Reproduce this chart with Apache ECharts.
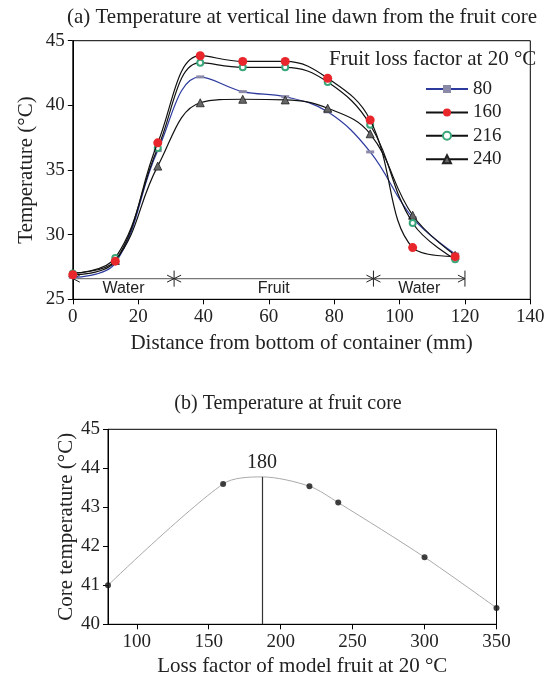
<!DOCTYPE html>
<html>
<head>
<meta charset="utf-8">
<script src="https://cdn.jsdelivr.net/npm/echarts@6/dist/echarts.min.js"></script>
<style>html,body{margin:0;padding:0;background:#fff}#c{width:555px;height:680px}</style>
</head>
<body>
<div id="c"></div>
<script>
// ---- Data (a): temperature along vertical line ----
const distance = [0, 13, 26, 39, 52, 65, 78, 91, 104, 117];
const lf80  = [26.7, 27.8, 36.5, 42.2, 41.06, 40.67, 39.5, 36.4, 31.3, 28.5];
const lf160 = [26.9, 27.95, 37.1, 43.84, 43.4, 43.4, 42.1, 38.87, 29.0, 28.3];
const lf216 = [27.0, 28.2, 36.7, 43.3, 42.94, 42.94, 41.8, 38.5, 30.9, 28.1];
const lf240 = [27.05, 28.0, 35.3, 40.2, 40.47, 40.42, 39.78, 37.8, 31.5, 28.4];
const seriesNames = ['80', '160', '216', '240'];
const xTicksA = [0, 20, 40, 60, 80, 100, 120, 140];
const yTicksA = [25, 30, 35, 40, 45];
// region brackets
const regionStart = [0, 31, 92];
const regionEnd = [31, 92, 120];
const regionName = ['Water', 'Fruit', 'Water'];
const bracketLevel = 26.6;

// ---- Data (b): core temperature ----
const lossFactor = [80, 160, 220, 240, 300, 350];
const coreTemp = [41.0, 43.6, 43.54, 43.12, 41.72, 40.42];
const fitX = [80, 160, 187, 220, 240, 300, 350];
const fitY = [41.0, 43.6, 43.78, 43.54, 43.12, 41.72, 40.42];
const peakX = 187, peakY = 43.78, peakLabel = '180';
const xTicksB = [100, 150, 200, 250, 300, 350];

const SERIF = 'Liberation Serif';
const txt = '#222';
const pairs = (xs, ys) => xs.map((x, i) => [x, ys[i]]);

const axisCommon = {
  axisLine: { show: true, lineStyle: { color: '#000', width: 1 } },
  axisTick: { show: true, inside: false, length: 5, lineStyle: { color: '#000' } },
  splitLine: { show: false },
  axisLabel: { color: txt, fontFamily: SERIF, fontSize: 19, margin: 8 },
  nameTextStyle: { color: txt, fontFamily: SERIF, fontSize: 21 },
  nameLocation: 'middle',
  nameMoveOverlap: false
};

const chart = echarts.init(document.getElementById('c'), null, { renderer: 'canvas' });
chart.setOption({
  animation: false,
  backgroundColor: '#fff',
  grid: [
    { left: 72.8, top: 40.7, width: 457.5, height: 258.6, show: true, borderColor: '#000', borderWidth: 1 },
    { left: 108, top: 429.3, width: 388.5, height: 195, show: true, borderColor: '#000', borderWidth: 1 }
  ],
  xAxis: [
    Object.assign({}, axisCommon, { type: 'value', gridIndex: 0, min: 0, max: 140, interval: 20,
      name: 'Distance from bottom of container (mm)', nameGap: 34 }),
    Object.assign({}, axisCommon, { type: 'value', gridIndex: 1, min: 80, max: 350,
      axisTick: Object.assign({}, axisCommon.axisTick, { customValues: xTicksB }),
      axisLabel: Object.assign({}, axisCommon.axisLabel, { customValues: xTicksB }),
      name: 'Loss factor of model fruit at 20 °C', nameGap: 32 })
  ],
  yAxis: [
    Object.assign({}, axisCommon, { type: 'value', gridIndex: 0, min: 25, max: 45, interval: 5,
      name: 'Temperature (°C)', nameGap: 36 }),
    Object.assign({}, axisCommon, { type: 'value', gridIndex: 1, min: 40, max: 45, interval: 1,
      name: 'Core temperature (°C)', nameGap: 31 })
  ],
  legend: {
    data: seriesNames,
    orient: 'vertical',
    left: 420, top: 74,
    itemWidth: 42, itemHeight: 10, itemGap: 3.4,
    textStyle: { color: txt, fontFamily: SERIF, fontSize: 19, lineHeight: 20, padding: [0, 0, 0, 0] },
    inactiveColor: '#ccc'
  },
  graphic: [
    { type: 'text', x: 302, y: 17, style: { text: '(a) Temperature at vertical line dawn from the fruit core',
      font: '21px "Liberation Serif"', fill: txt, textAlign: 'center', textVerticalAlign: 'middle' } },
    { type: 'text', x: 288, y: 404, style: { text: '(b) Temperature at fruit core',
      font: '20px "Liberation Serif"', fill: txt, textAlign: 'center', textVerticalAlign: 'middle' } },
    { type: 'text', x: 329, y: 59, style: { text: 'Fruit loss factor at 20 °C',
      font: '21px "Liberation Serif"', fill: txt, textAlign: 'left', textVerticalAlign: 'middle' } }
  ],
  series: [
    { name: '80', type: 'line', xAxisIndex: 0, yAxisIndex: 0, data: pairs(distance, lf80), smooth: 0.4,
      symbol: 'rect', symbolSize: [8, 3], itemStyle: { color: '#8a8aa8' },
      lineStyle: { color: '#2c3a9e', width: 1.2 }, z: 3 },
    { name: '240', type: 'line', xAxisIndex: 0, yAxisIndex: 0, data: pairs(distance, lf240), smooth: 0.4,
      symbol: 'triangle', symbolSize: 8, itemStyle: { color: '#666', borderColor: '#222', borderWidth: 0.8 },
      lineStyle: { color: '#111', width: 1.2 }, z: 4 },
    { name: '216', type: 'line', xAxisIndex: 0, yAxisIndex: 0, data: pairs(distance, lf216), smooth: 0.4,
      symbol: 'emptyCircle', symbolSize: 6, itemStyle: { color: '#3aa67a', borderWidth: 1 },
      lineStyle: { color: '#111', width: 1.2 }, z: 5 },
    { name: '160', type: 'line', xAxisIndex: 0, yAxisIndex: 0, data: pairs(distance, lf160), smooth: 0.4,
      symbol: 'circle', symbolSize: 9, itemStyle: { color: '#e8262b' },
      lineStyle: { color: '#111', width: 1.2 }, z: 6 },
    { name: 'regions', type: 'custom', xAxisIndex: 0, yAxisIndex: 0, silent: true, z: 2,
      data: regionStart.map((s, i) => [s, regionEnd[i], bracketLevel, regionName[i]]),
      encode: { x: [0, 1], y: 2 },
      renderItem: function (params, api) {
        const s = api.coord([api.value(0), api.value(2)]);
        const e = api.coord([api.value(1), api.value(2)]);
        const name = regionName[params.dataIndex];
        const ah = 7, aw = 3.5;
        const kids = [
          { type: 'line', shape: { x1: s[0], y1: s[1], x2: e[0], y2: e[1] }, style: { stroke: '#777', lineWidth: 1.3 } },
          { type: 'polyline', shape: { points: [[s[0] + ah, s[1] - aw], [s[0], s[1]], [s[0] + ah, s[1] + aw]] }, style: { stroke: '#222', fill: null, lineWidth: 1 } },
          { type: 'polyline', shape: { points: [[e[0] - ah, e[1] - aw], [e[0], e[1]], [e[0] - ah, e[1] + aw]] }, style: { stroke: '#222', fill: null, lineWidth: 1 } },
          { type: 'line', shape: { x1: e[0], y1: e[1] - 8, x2: e[0], y2: e[1] + 8 }, style: { stroke: '#222', lineWidth: 1 } },
          { type: 'text', x: (s[0] + e[0]) / 2, y: s[1] + 10, style: { text: name, font: '16px "Liberation Sans"', fill: txt, textAlign: 'center', textVerticalAlign: 'middle' } }
        ];
        return { type: 'group', children: kids };
      }
    },
    { name: 'fit', type: 'line', xAxisIndex: 1, yAxisIndex: 1, data: pairs(fitX, fitY), smooth: 0.3,
      showSymbol: false, symbol: 'none', lineStyle: { color: '#aaa', width: 1 }, silent: true,
      markLine: { silent: true, symbol: 'none', animation: false,
        lineStyle: { color: '#333', width: 1.2, type: 'solid' },
        label: { show: true, position: 'start', formatter: peakLabel, color: txt, fontFamily: SERIF, fontSize: 20, distance: 4 },
        data: [[{ coord: [peakX, peakY] }, { coord: [peakX, 40] }]] } },
    { name: 'core', type: 'scatter', xAxisIndex: 1, yAxisIndex: 1, data: pairs(lossFactor, coreTemp),
      symbolSize: 6, itemStyle: { color: '#111' }, z: 5 }
  ]
});
</script>
</body>
</html>
